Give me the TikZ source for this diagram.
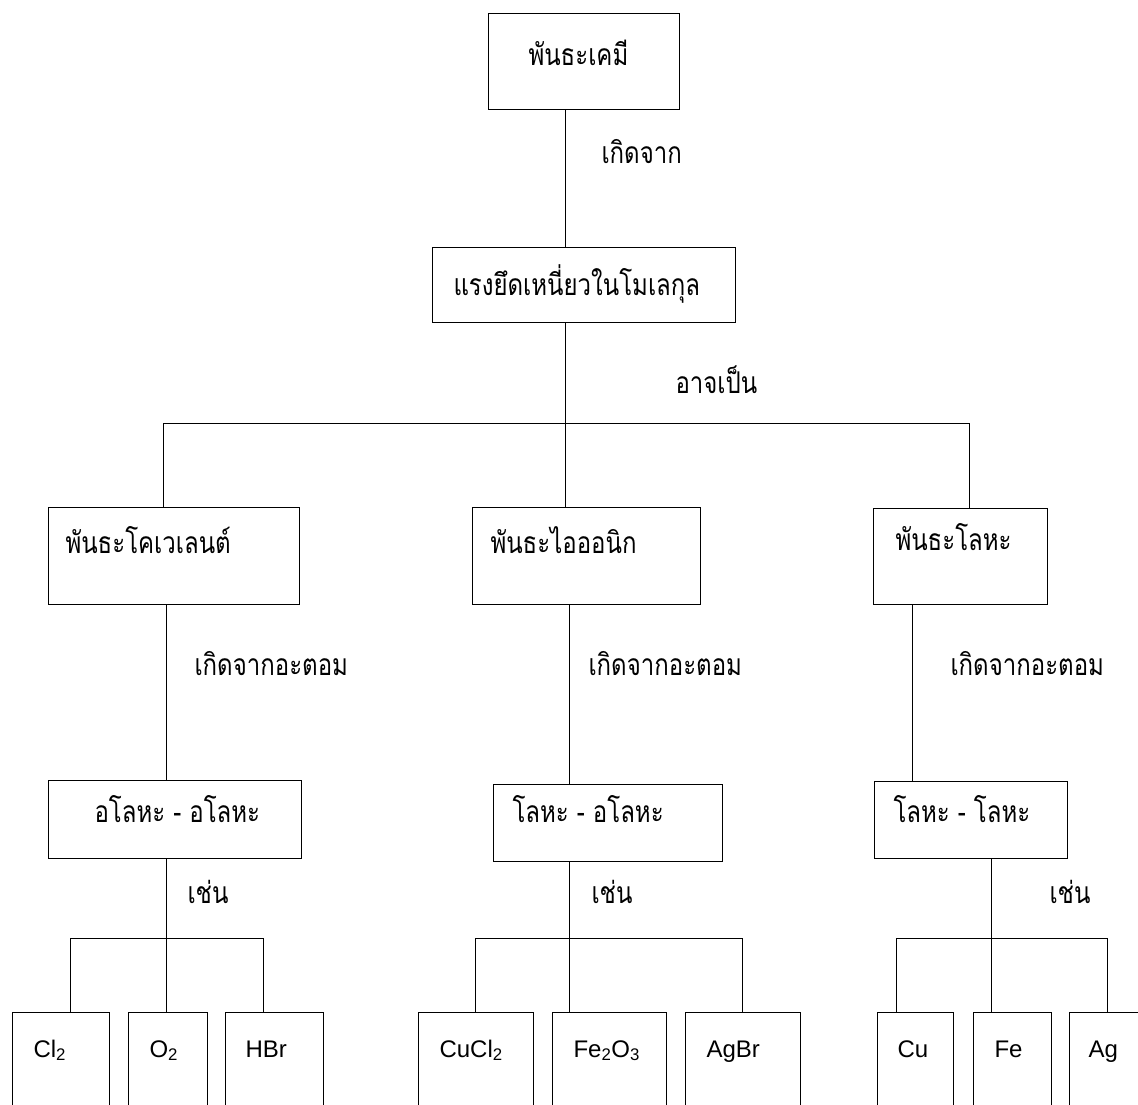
\documentclass[tikz,border=0pt]{standalone}
\usepackage{fontspec}
\setmainfont{Liberation Sans}
\newfontfamily\thaifont[Script=Thai,FakeStretch=0.8]{Loma}
\usepackage{tikz}
\usetikzlibrary{positioning}

\tikzset{
	box/.style={draw=black, line width=1pt, rectangle, inner sep=0pt},
	thai/.style={font=\thaifont\fontsize{30}{36}\selectfont, inner sep=0pt, anchor=base west},
	formula/.style={font=\fontsize{24}{28}\selectfont, inner sep=0pt, anchor=base west}
}

\begin{document}
\begin{tikzpicture}[x=1pt, y=-1pt, line width=1pt]
	\useasboundingbox (0,0) rectangle (1138,1104);
	\clip (0,0) rectangle (1138,1104);

	% boxes
	\node[box, minimum width=191pt, minimum height=96pt] (chem) at (583.5,61) {};
	\node[box, minimum width=303pt, minimum height=75pt] (force) at (583.5,284.5) {};
	\node[box, minimum width=251pt, minimum height=97pt] (cov) at (173.5,555.5) {};
	\node[box, minimum width=228pt, minimum height=97pt] (ion) at (586,555.5) {};
	\node[box, minimum width=174pt, minimum height=96pt] (met) at (960,556) {};
	\node[box, minimum width=253pt, minimum height=78pt] (nmnm) at (174.5,819) {};
	\node[box, minimum width=229pt, minimum height=77pt] (mnm) at (607.5,822.5) {};
	\node[box, minimum width=193pt, minimum height=77pt] (mm) at (970.5,819.5) {};

	\begin{scope}[every node/.style={box, minimum height=108pt}]
		\node[minimum width=97pt] (cl2) at (60.5,1066) {};
		\node[minimum width=79pt] (o2) at (167.5,1066) {};
		\node[minimum width=98pt] (hbr) at (274,1066) {};
		\node[minimum width=115pt] (cucl2) at (475.5,1066) {};
		\node[minimum width=114pt] (fe2o3) at (609,1066) {};
		\node[minimum width=115pt] (agbr) at (742.5,1066) {};
		\node[minimum width=76pt] (cu) at (915,1066) {};
		\node[minimum width=78pt] (fe) at (1012,1066) {};
		\node[minimum width=91pt] (ag) at (1114.5,1066) {};
	\end{scope}

	% texts
	\node[thai] (chem-t) at (528,65) {พันธะเคมี};
	\node[thai] (force-t) at (453,295) {แรงยึดเหนี่ยวในโมเลกุล};
	\node[thai] (cov-t) at (65,553) {พันธะโคเวเลนต์};
	\node[thai] (ion-t) at (490,553) {พันธะไอออนิก};
	\node[thai] (met-t) at (895,550) {พันธะโลหะ};
	\node[thai] (nmnm-t) at (94,822) {อโลหะ - อโลหะ};
	\node[thai] (mnm-t) at (512,822) {โลหะ - อโลหะ};
	\node[thai] (mm-t) at (893,822) {โลหะ - โลหะ};

	\node[thai] (from) at (601,163) {เกิดจาก};
	\node[thai] (maybe) at (675,393) {อาจเป็น};
	\node[thai] (atom-l) at (194,675) {เกิดจากอะตอม};
	\node[thai] (atom-m) at (588,675) {เกิดจากอะตอม};
	\node[thai] (atom-r) at (950,675) {เกิดจากอะตอม};
	\node[thai] (eg-l) at (187,903) {เช่น};
	\node[thai] (eg-m) at (591,903) {เช่น};
	\node[thai] (eg-r) at (1049,903) {เช่น};

	\node[formula] (cl2-t) at (33,1057) {Cl\textsubscript{2}};
	\node[formula] (o2-t) at (149,1057) {O\textsubscript{2}};
	\node[formula] (hbr-t) at (245,1057) {HBr};
	\node[formula] (cucl2-t) at (439,1057) {CuCl\textsubscript{2}};
	\node[formula] (fe2o3-t) at (573,1057) {Fe\textsubscript{2}O\textsubscript{3}};
	\node[formula] (agbr-t) at (706,1057) {AgBr};
	\node[formula] (cu-t) at (897,1057) {Cu};
	\node[formula] (fe-t) at (994,1057) {Fe};
	\node[formula] (ag-t) at (1088,1057) {Ag};

	% junctions
	\coordinate (split) at (565,423);
	\coordinate (split-l) at (163,423);
	\coordinate (split-r) at (969,423);
	\coordinate (met-x) at (912,700);
	\coordinate (ex-l) at (166,938);
	\coordinate (ex-m) at (569,938);
	\coordinate (ex-r) at (991,938);
	\coordinate (l1) at (70,938);
	\coordinate (l3) at (263,938);
	\coordinate (m1) at (475,938);
	\coordinate (m3) at (742,938);
	\coordinate (r1) at (896,938);
	\coordinate (r3) at (1107,938);

	% connectors
	\draw (chem.south -| split) -- (force.north -| split);
	\draw (force.south -| split) -- (split);
	\draw (split-l) -- (split-r);
	\draw (split-l) -- (cov.north -| split-l);
	\draw (split) -- (ion.north -| split);
	\draw (split-r) -- (met.north -| split-r);

	\draw (cov.south -| ex-l) -- (nmnm.north -| ex-l);
	\draw (ion.south -| ex-m) -- (mnm.north -| ex-m);
	\draw (met.south -| met-x) -- (mm.north -| met-x);

	\draw (nmnm.south -| ex-l) -- (ex-l);
	\draw (mnm.south -| ex-m) -- (ex-m);
	\draw (mm.south -| ex-r) -- (ex-r);

	\draw (l1) -- (l3);
	\draw (m1) -- (m3);
	\draw (r1) -- (r3);
	\draw (l1) -- (cl2.north -| l1);
	\draw (ex-l) -- (o2.north -| ex-l);
	\draw (l3) -- (hbr.north -| l3);
	\draw (m1) -- (cucl2.north -| m1);
	\draw (ex-m) -- (fe2o3.north -| ex-m);
	\draw (m3) -- (agbr.north -| m3);
	\draw (r1) -- (cu.north -| r1);
	\draw (ex-r) -- (fe.north -| ex-r);
	\draw (r3) -- (ag.north -| r3);
\end{tikzpicture}
\end{document}
